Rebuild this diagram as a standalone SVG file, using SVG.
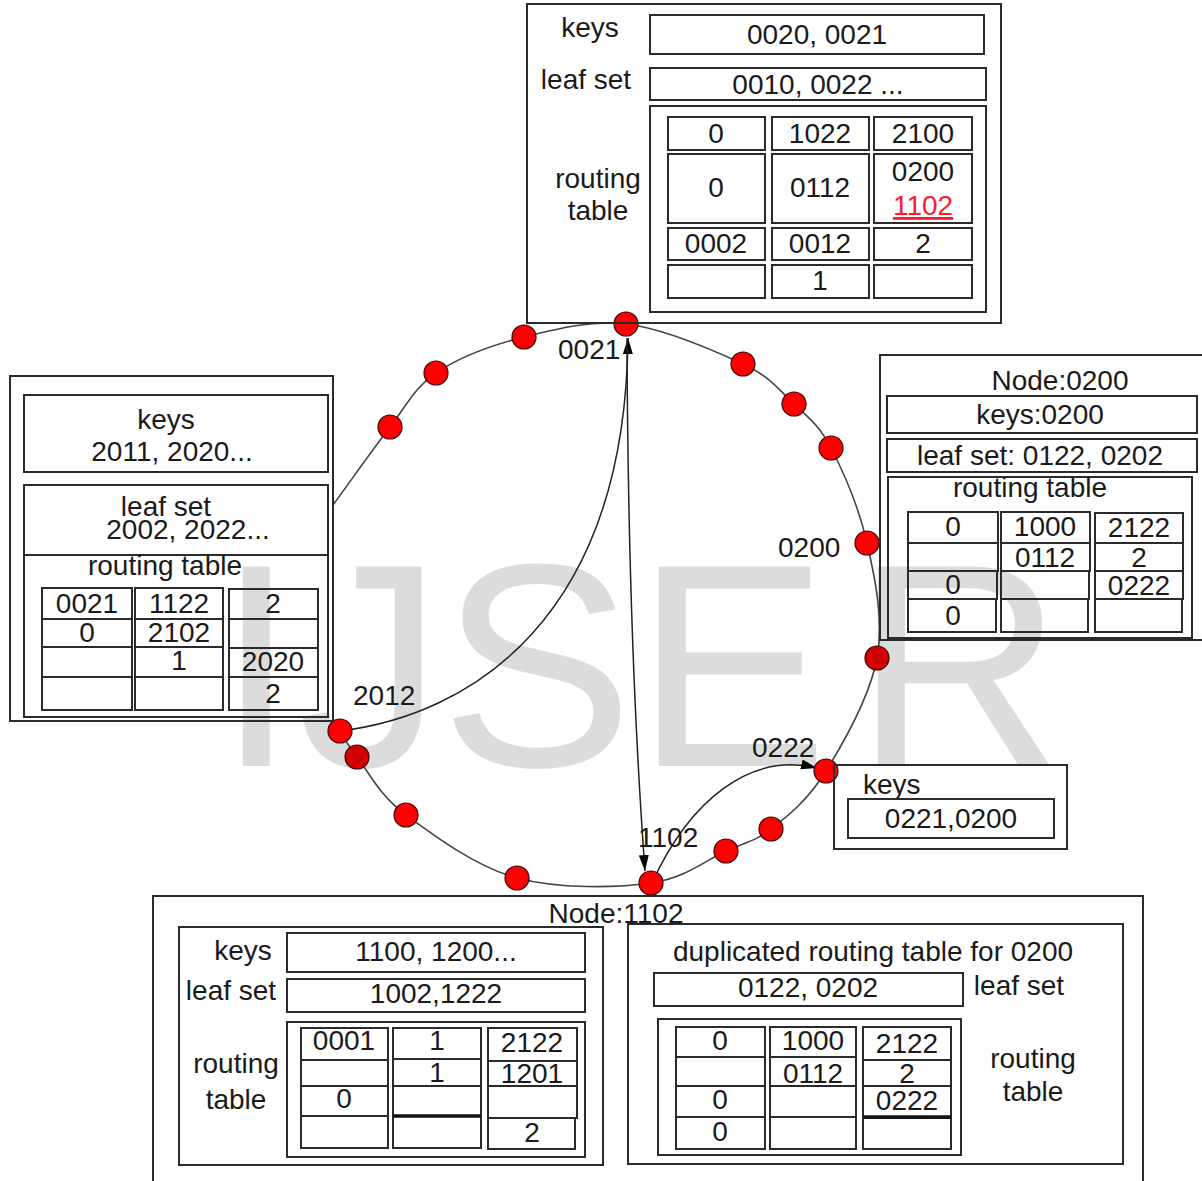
<svg xmlns="http://www.w3.org/2000/svg" width="1202" height="1181" viewBox="0 0 1202 1181">
<style>
.box{fill:none;stroke:#2a2a2a;stroke-width:2}
.thick{stroke:#111;stroke-width:3.5}
.t{font-family:"Liberation Sans",Arial,sans-serif;font-size:28px;fill:#1a1a1a}
.m{text-anchor:middle}
.nd{fill:#ff0000;stroke:#3a0a0a;stroke-width:1.2}
.nd2{fill:#d40000;stroke:#3a0a0a;stroke-width:1.2}
.ring{fill:none;stroke:#444;stroke-width:1.6}
.link{fill:none;stroke:#222;stroke-width:1.5}
.wm{font-family:"Liberation Sans",Arial,sans-serif;font-size:290px;fill:#dcdcdc}
</style>
<defs>
<marker id="ah" markerUnits="userSpaceOnUse" markerWidth="18" markerHeight="12" refX="16" refY="5" orient="auto">
<path d="M0,0 L16,5 L0,10 z" fill="#000"/>
</marker>
</defs>
<rect width="1202" height="1181" fill="#fff"/>
<text class="wm" x="216 298 440 635 854" y="766">IJSER</text>

<g id="ring">
<path class="ring" d="M333,505 C352,479 373,449 390,427 C407,405 414,388 436,373 C458,358 492,345 524,337 C556,329 590,320 626,324 C662,328 715,351 743,364 C771,377 779,390 794,404 C809,418 819,425 831,448 C843,471 859,508 867,543 C875,578 884,620 877,658 C870,696 844,742 826,771 C808,800 788,816 771,829 C754,842 746,842 726,851 C706,860 686,878 651,883 C616,888 558,889 517,878 C476,867 433,835 406,815 C379,795 368,771 357,757 C346,743 346,740 340,731 L333,719"/>
</g>

<g id="connectors">
<path class="link" d="M340,731 C470,715 625,620 628,338" marker-end="url(#ah)"/>
<path class="link" d="M627,338 Q628,640 645,871" marker-end="url(#ah)"/>
<path class="link" d="M652,883 C690,800 750,752 817,768" marker-end="url(#ah)"/>
</g>

<g id="node-0021"><circle class="nd" cx="626" cy="324" r="12"/><text class="t" x="558" y="359">0021</text></g>
<g id="node-a"><circle class="nd" cx="524" cy="337" r="12"/></g>
<g id="node-b"><circle class="nd" cx="436" cy="373" r="12"/></g>
<g id="node-c"><circle class="nd" cx="390" cy="427" r="12"/></g>
<g id="node-d"><circle class="nd" cx="743" cy="364" r="12"/></g>
<g id="node-e"><circle class="nd" cx="794" cy="404" r="12"/></g>
<g id="node-f"><circle class="nd" cx="831" cy="448" r="12"/></g>
<g id="node-0200"><circle class="nd" cx="867" cy="543" r="12"/><text class="t" x="778" y="557">0200</text></g>
<g id="node-g"><circle class="nd2" cx="877" cy="658" r="12"/></g>
<g id="node-0222"><circle class="nd" cx="826" cy="771" r="12"/><text class="t" x="752" y="757">0222</text></g>
<g id="node-h"><circle class="nd" cx="771" cy="829" r="12"/></g>
<g id="node-i"><circle class="nd" cx="726" cy="851" r="12"/></g>
<g id="node-1102"><circle class="nd" cx="651" cy="883" r="12"/><text class="t" x="638" y="847">1102</text></g>
<g id="node-j"><circle class="nd" cx="517" cy="878" r="12"/></g>
<g id="node-k"><circle class="nd" cx="406" cy="815" r="12"/></g>
<g id="node-l"><circle class="nd2" cx="357" cy="757" r="12"/></g>
<g id="node-2012"><circle class="nd" cx="340" cy="731" r="12"/><text class="t" x="353" y="705">2012</text></g>

<g id="table-0021">
<rect class="box" x="527" y="4" width="474" height="319"/>
<text class="t m" x="590" y="37">keys</text>
<rect class="box" x="650" y="15" width="334" height="39"/>
<text class="t m" x="817" y="44">0020, 0021</text>
<text class="t m" x="586" y="89">leaf set</text>
<rect class="box" x="650" y="68" width="336" height="32"/>
<text class="t m" x="818" y="94">0010, 0022 ...</text>
<text class="t m" x="598" y="188">routing</text>
<text class="t m" x="598" y="220">table</text>
<rect class="box" x="650" y="106" width="336" height="206"/>
<rect class="box" x="668" y="117" width="97" height="33"/>
<rect class="box" x="668" y="154" width="97" height="69"/>
<rect class="box" x="668" y="228" width="97" height="32"/>
<rect class="box" x="668" y="265" width="97" height="33"/>
<rect class="box" x="772" y="117" width="97" height="33"/>
<rect class="box" x="772" y="154" width="97" height="69"/>
<rect class="box" x="772" y="228" width="97" height="32"/>
<rect class="box" x="772" y="265" width="97" height="33"/>
<rect class="box" x="874" y="117" width="98" height="33"/>
<rect class="box" x="874" y="154" width="98" height="69"/>
<rect class="box" x="874" y="228" width="98" height="32"/>
<rect class="box" x="874" y="265" width="98" height="33"/>
<text class="t m" x="716" y="143">0</text>
<text class="t m" x="820" y="143">1022</text>
<text class="t m" x="923" y="143">2100</text>
<text class="t m" x="716" y="197">0</text>
<text class="t m" x="820" y="197">0112</text>
<text class="t m" x="923" y="181">0200</text>
<text class="t m" x="923" y="215" style="fill:#ff1a2a;text-decoration:underline">1102</text>
<text class="t m" x="716" y="253">0002</text>
<text class="t m" x="820" y="253">0012</text>
<text class="t m" x="923" y="253">2</text>
<text class="t m" x="820" y="290">1</text>
</g>

<g id="table-2012">
<rect class="box" x="10" y="376" width="323" height="345"/>
<rect class="box" x="24" y="395" width="304" height="77"/>
<text class="t m" x="166" y="429">keys</text>
<text class="t m" x="172" y="461">2011, 2020...</text>
<rect class="box" x="24" y="485" width="304" height="232"/>
<line class="box" x1="24" y1="555" x2="328" y2="555"/>
<text class="t m" x="166" y="516">leaf set</text>
<text class="t m" x="188" y="539">2002, 2022...</text>
<text class="t m" x="165" y="575">routing table</text>
<rect class="box" x="42" y="588" width="90" height="31"/>
<rect class="box" x="42" y="619" width="90" height="28"/>
<rect class="box" x="42" y="647" width="90" height="30"/>
<rect class="box" x="42" y="677" width="90" height="33"/>
<rect class="box" x="135" y="588" width="88" height="31"/>
<rect class="box" x="135" y="619" width="88" height="28"/>
<rect class="box" x="135" y="647" width="88" height="30"/>
<rect class="box" x="135" y="677" width="88" height="33"/>
<rect class="box" x="229" y="589" width="89" height="30"/>
<rect class="box" x="229" y="619" width="89" height="29"/>
<rect class="box" x="229" y="648" width="89" height="29"/>
<rect class="box" x="229" y="677" width="89" height="33"/>
<text class="t m" x="87" y="613">0021</text>
<text class="t m" x="179" y="613">1122</text>
<text class="t m" x="273" y="613">2</text>
<text class="t m" x="87" y="642">0</text>
<text class="t m" x="179" y="642">2102</text>
<text class="t m" x="179" y="670">1</text>
<text class="t m" x="273" y="671">2020</text>
<text class="t m" x="273" y="703">2</text>
</g>

<g id="table-0200">
<rect class="box" x="880" y="355" width="330" height="285"/>
<text class="t m" x="1060" y="390">Node:0200</text>
<rect class="box" x="887" y="396" width="310" height="37"/>
<text class="t m" x="1040" y="424">keys:0200</text>
<rect class="box" x="887" y="439" width="310" height="33"/>
<text class="t m" x="1040" y="465">leaf set: 0122, 0202</text>
<rect class="box" x="888" y="477" width="304" height="161"/>
<text class="t m" x="1030" y="497">routing table</text>
<rect class="box" x="908" y="512" width="90" height="31"/>
<rect class="box" x="908" y="543" width="90" height="28"/>
<rect class="box" x="908" y="571" width="89" height="28"/>
<rect class="box" x="908" y="599" width="88" height="33"/>
<rect class="box" x="1001" y="512" width="89" height="31"/>
<rect class="box" x="1001" y="543" width="89" height="28"/>
<rect class="box" x="1001" y="571" width="88" height="28"/>
<rect class="box" x="1001" y="599" width="87" height="33"/>
<rect class="box" x="1095" y="513" width="88" height="30"/>
<rect class="box" x="1095" y="543" width="88" height="28"/>
<rect class="box" x="1095" y="571" width="88" height="28"/>
<rect class="box" x="1095" y="599" width="87" height="33"/>
<text class="t m" x="953" y="536">0</text>
<text class="t m" x="1045" y="536">1000</text>
<text class="t m" x="1139" y="537">2122</text>
<text class="t m" x="1045" y="567">0112</text>
<text class="t m" x="1139" y="567">2</text>
<text class="t m" x="953" y="594">0</text>
<text class="t m" x="1139" y="595">0222</text>
<text class="t m" x="953" y="625">0</text>
</g>

<g id="keys-0222">
<rect class="box" x="834" y="765" width="233" height="84"/>
<text class="t" x="863" y="794">keys</text>
<rect class="box" x="848" y="799" width="206" height="39"/>
<text class="t m" x="951" y="828">0221,0200</text>
</g>

<g id="table-1102">
<rect class="box" x="153" y="896" width="990" height="300"/>
<text class="t m" x="616" y="923">Node:1102</text>
<rect class="box" x="179" y="927" width="424" height="238"/>
<text class="t m" x="243" y="960">keys</text>
<rect class="box" x="287" y="933" width="298" height="39"/>
<text class="t m" x="436" y="961">1100, 1200...</text>
<text class="t m" x="231" y="1000">leaf set</text>
<rect class="box" x="287" y="979" width="298" height="33"/>
<text class="t m" x="436" y="1003">1002,1222</text>
<text class="t m" x="236" y="1073">routing</text>
<text class="t m" x="236" y="1109">table</text>
<rect class="box" x="287" y="1022" width="298" height="135"/>
<rect class="box" x="301" y="1028" width="87" height="32"/>
<rect class="box" x="301" y="1060" width="87" height="26"/>
<rect class="box" x="301" y="1086" width="87" height="30"/>
<rect class="box" x="301" y="1116" width="87" height="32"/>
<rect class="box" x="393" y="1028" width="88" height="31"/>
<rect class="box" x="393" y="1059" width="88" height="27"/>
<rect class="box" x="393" y="1086" width="88" height="30"/>
<rect class="box" x="393" y="1116" width="88" height="32"/>
<line class="box thick" x1="393" y1="1116" x2="481" y2="1116"/>
<rect class="box" x="488" y="1028" width="89" height="33"/>
<rect class="box" x="488" y="1061" width="89" height="25"/>
<rect class="box" x="488" y="1086" width="89" height="32"/>
<rect class="box" x="488" y="1118" width="87" height="31"/>
<text class="t m" x="344" y="1050">0001</text>
<text class="t m" x="437" y="1050">1</text>
<text class="t m" x="532" y="1052">2122</text>
<text class="t m" x="437" y="1082">1</text>
<text class="t m" x="532" y="1083">1201</text>
<text class="t m" x="344" y="1108">0</text>
<text class="t m" x="532" y="1142">2</text>
<rect class="box" x="628" y="924" width="495" height="240"/>
<text class="t m" x="873" y="961">duplicated routing table for 0200</text>
<rect class="box" x="654" y="973" width="309" height="33"/>
<text class="t m" x="808" y="997">0122, 0202</text>
<text class="t m" x="1019" y="995">leaf set</text>
<rect class="box" x="658" y="1019" width="303" height="136"/>
<text class="t m" x="1033" y="1068">routing</text>
<text class="t m" x="1033" y="1101">table</text>
<rect class="box" x="676" y="1027" width="89" height="30"/>
<rect class="box" x="676" y="1057" width="89" height="29"/>
<rect class="box" x="676" y="1086" width="89" height="31"/>
<rect class="box" x="676" y="1117" width="89" height="32"/>
<rect class="box" x="770" y="1027" width="86" height="30"/>
<rect class="box" x="770" y="1057" width="86" height="29"/>
<rect class="box" x="770" y="1086" width="86" height="31"/>
<rect class="box" x="770" y="1117" width="86" height="32"/>
<rect class="box" x="863" y="1027" width="88" height="33"/>
<rect class="box" x="863" y="1060" width="88" height="26"/>
<rect class="box" x="863" y="1086" width="88" height="32"/>
<rect class="box" x="863" y="1118" width="88" height="31"/>
<line class="box thick" x1="863" y1="1117" x2="951" y2="1117"/>
<text class="t m" x="720" y="1050">0</text>
<text class="t m" x="813" y="1050">1000</text>
<text class="t m" x="907" y="1053">2122</text>
<text class="t m" x="813" y="1083">0112</text>
<text class="t m" x="907" y="1083">2</text>
<text class="t m" x="720" y="1109">0</text>
<text class="t m" x="907" y="1110">0222</text>
<text class="t m" x="720" y="1141">0</text>
</g>
</svg>
